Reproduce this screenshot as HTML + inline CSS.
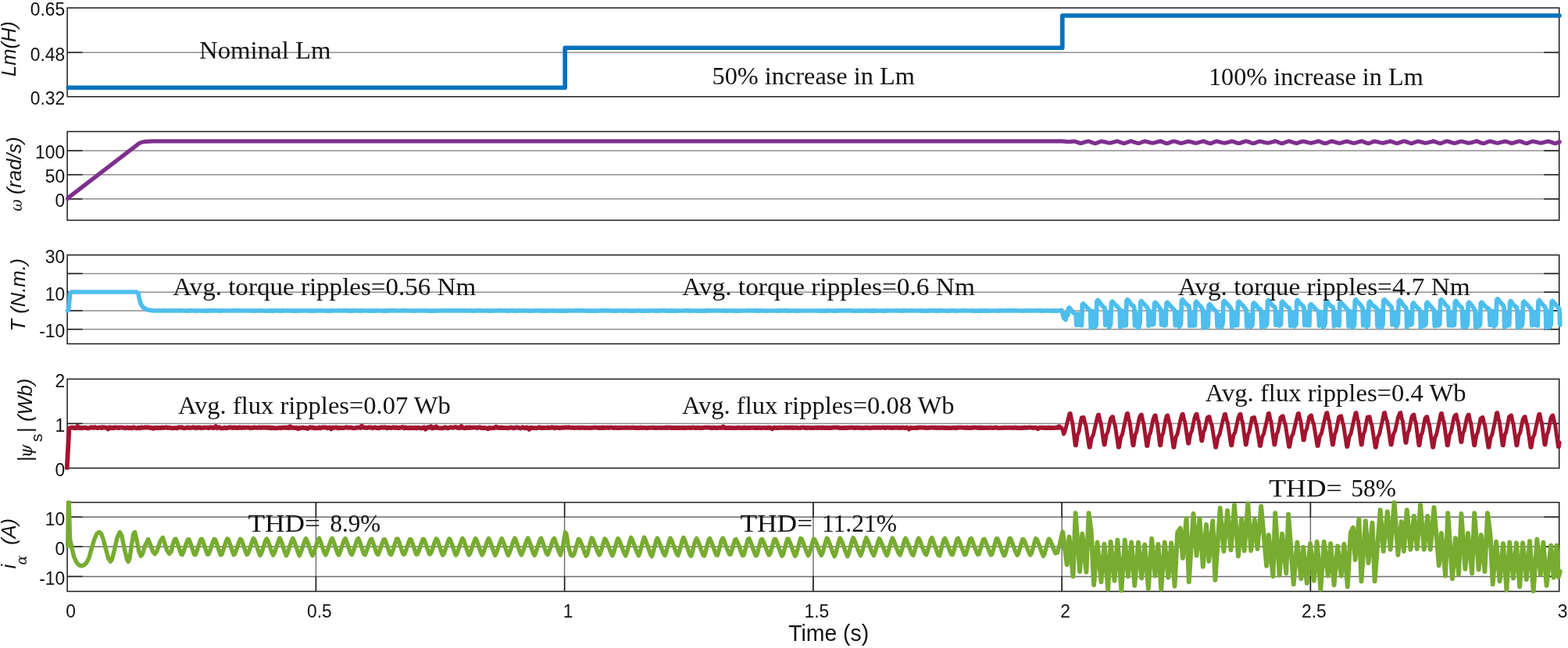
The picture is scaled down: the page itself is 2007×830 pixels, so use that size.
<!DOCTYPE html>
<html lang="en">
<head>
<meta charset="utf-8">
<title>Effect of Lm variation: speed, torque, flux and current response</title>
<style>
html,body{margin:0;padding:0;background:#fff;}
body{width:2007px;height:830px;overflow:hidden;}
svg{display:block;filter:blur(0.4px);}
.tk{font-family:"Liberation Sans",sans-serif;font-size:22.8px;fill:#111;}
.xl{font-family:"Liberation Sans",sans-serif;font-size:28.4px;fill:#111;}
.yl{font-family:"Liberation Sans",sans-serif;font-size:25.5px;font-style:italic;fill:#111;}
.gw{font-family:"DejaVu Serif",serif;font-style:italic;font-size:18.5px;fill:#111;}
.gr{font-family:"DejaVu Serif",serif;font-style:italic;font-size:22px;fill:#111;}
.yu{font-family:"Liberation Sans",sans-serif;font-size:25.5px;fill:#111;}
.ys{font-family:"Liberation Sans",sans-serif;font-size:21px;fill:#111;}
.ga{font-family:"DejaVu Serif",serif;font-style:italic;font-size:18px;fill:#111;}
.an{font-family:"Liberation Serif",serif;font-size:32px;fill:#111;}
</style>
</head>
<body>
<svg width="2007" height="830" viewBox="0 0 2007 830" role="img" aria-label="Simulation results under magnetizing inductance variation">
<rect width="2007" height="830" fill="#fff"/>
<g>
<line x1="86.1" y1="67.3" x2="1995.7" y2="67.3" stroke="#8f8f8f" stroke-width="1.5"/>
<rect x="86.1" y="10.1" width="1909.6" height="113.7" fill="none" stroke="#1c1c1c" stroke-width="1.5"/>
<line x1="86.1" y1="67.3" x2="105.6" y2="67.3" stroke="#1c1c1c" stroke-width="1.5"/>
<line x1="1976.2" y1="67.3" x2="1995.7" y2="67.3" stroke="#1c1c1c" stroke-width="1.5"/>
<polyline points="87.3,112.3 723.2,112.3 723.2,61.2 1359.8,61.2 1359.8,20.0 1996.0,20.0" fill="none" stroke="#0072BD" stroke-width="5.6" stroke-linejoin="round" stroke-linecap="round"/>
<text transform="translate(83.1 20.4) scale(1 1.04)" text-anchor="end" class="tk">0.65</text>
<text transform="translate(83.1 77.6) scale(1 1.04)" text-anchor="end" class="tk">0.48</text>
<text transform="translate(83.1 134.1) scale(1 1.04)" text-anchor="end" class="tk">0.32</text>
</g>
<g>
<line x1="86.1" y1="193.0" x2="1995.7" y2="193.0" stroke="#8f8f8f" stroke-width="1.5"/>
<line x1="86.1" y1="223.7" x2="1995.7" y2="223.7" stroke="#8f8f8f" stroke-width="1.5"/>
<line x1="86.1" y1="254.8" x2="1995.7" y2="254.8" stroke="#8f8f8f" stroke-width="1.5"/>
<rect x="86.1" y="168.5" width="1909.6" height="113.6" fill="none" stroke="#1c1c1c" stroke-width="1.5"/>
<line x1="86.1" y1="193.0" x2="105.6" y2="193.0" stroke="#1c1c1c" stroke-width="1.5"/>
<line x1="1976.2" y1="193.0" x2="1995.7" y2="193.0" stroke="#1c1c1c" stroke-width="1.5"/>
<line x1="86.1" y1="223.7" x2="105.6" y2="223.7" stroke="#1c1c1c" stroke-width="1.5"/>
<line x1="1976.2" y1="223.7" x2="1995.7" y2="223.7" stroke="#1c1c1c" stroke-width="1.5"/>
<line x1="86.1" y1="254.8" x2="105.6" y2="254.8" stroke="#1c1c1c" stroke-width="1.5"/>
<line x1="1976.2" y1="254.8" x2="1995.7" y2="254.8" stroke="#1c1c1c" stroke-width="1.5"/>
<polyline points="86.7,254.5 88.5,252.4 174.2,186.6 177.5,184.0 181.0,182.2 186.0,181.3 195.0,180.9 1360.0,180.9 1362.0,181.1 1363.5,181.2 1365.0,181.4 1366.5,181.5 1368.0,181.5 1369.5,181.5 1371.0,181.3 1372.5,181.2 1374.0,181.1 1375.5,181.1 1377.0,181.5 1378.5,181.9 1380.0,182.5 1381.5,183.1 1383.0,183.5 1384.5,183.3 1386.0,182.8 1387.5,182.3 1389.0,181.8 1390.5,181.4 1392.0,181.0 1393.5,180.9 1395.0,181.4 1396.5,182.0 1398.0,182.6 1399.5,183.1 1401.0,183.6 1402.5,183.6 1404.0,183.1 1405.5,182.5 1407.0,181.9 1408.5,181.3 1410.0,180.9 1411.5,181.3 1413.0,181.6 1414.5,181.9 1416.0,182.3 1417.5,182.7 1419.0,183.0 1420.5,183.1 1422.0,182.9 1423.5,182.5 1425.0,182.1 1426.5,181.7 1428.0,181.4 1429.5,180.8 1431.0,181.1 1432.5,181.7 1434.0,182.2 1435.5,182.8 1437.0,183.3 1438.5,183.7 1440.0,183.3 1441.5,182.8 1443.0,182.2 1444.5,181.7 1446.0,181.1 1447.5,180.8 1449.0,181.1 1450.5,181.6 1452.0,182.1 1453.5,182.6 1455.0,183.1 1456.5,183.5 1458.0,183.3 1459.5,182.9 1461.0,182.4 1462.5,181.8 1464.0,181.3 1465.5,180.9 1467.0,181.3 1468.5,181.6 1470.0,182.0 1471.5,182.4 1473.0,182.8 1474.5,183.1 1476.0,183.1 1477.5,182.8 1479.0,182.4 1480.5,182.0 1482.0,181.6 1483.5,181.3 1485.0,180.7 1486.5,181.2 1488.0,181.7 1489.5,182.4 1491.0,183.0 1492.5,183.5 1494.0,183.7 1495.5,183.3 1497.0,182.7 1498.5,182.1 1500.0,181.5 1501.5,181.0 1503.0,181.0 1504.5,181.3 1506.0,181.7 1507.5,182.2 1509.0,182.7 1510.5,183.1 1512.0,183.4 1513.5,183.1 1515.0,182.7 1516.5,182.3 1518.0,181.8 1519.5,181.4 1521.0,181.1 1522.5,181.3 1524.0,181.6 1525.5,182.1 1527.0,182.5 1528.5,183.0 1530.0,183.3 1531.5,183.2 1533.0,182.8 1534.5,182.4 1536.0,181.9 1537.5,181.5 1539.0,181.2 1540.5,180.8 1542.0,181.3 1543.5,181.9 1545.0,182.5 1546.5,183.1 1548.0,183.6 1549.5,183.7 1551.0,183.2 1552.5,182.6 1554.0,182.0 1555.5,181.4 1557.0,180.9 1558.5,181.2 1560.0,181.5 1561.5,181.9 1563.0,182.3 1564.5,182.7 1566.0,183.0 1567.5,183.2 1569.0,182.9 1570.5,182.6 1572.0,182.2 1573.5,181.8 1575.0,181.4 1576.5,180.8 1578.0,181.2 1579.5,181.6 1581.0,182.2 1582.5,182.7 1584.0,183.2 1585.5,183.5 1587.0,183.3 1588.5,182.8 1590.0,182.3 1591.5,181.8 1593.0,181.3 1594.5,180.9 1596.0,181.0 1597.5,181.4 1599.0,182.0 1600.5,182.6 1602.0,183.1 1603.5,183.6 1605.0,183.5 1606.5,183.0 1608.0,182.5 1609.5,181.9 1611.0,181.3 1612.5,180.9 1614.0,181.3 1615.5,181.6 1617.0,182.0 1618.5,182.4 1620.0,182.7 1621.5,183.0 1623.0,183.1 1624.5,182.8 1626.0,182.5 1627.5,182.1 1629.0,181.7 1630.5,181.4 1632.0,180.7 1633.5,181.1 1635.0,181.7 1636.5,182.3 1638.0,182.9 1639.5,183.4 1641.0,183.7 1642.5,183.3 1644.0,182.8 1645.5,182.2 1647.0,181.6 1648.5,181.1 1650.0,180.7 1651.5,181.2 1653.0,181.6 1654.5,182.1 1656.0,182.7 1657.5,183.1 1659.0,183.5 1660.5,183.3 1662.0,182.8 1663.5,182.3 1665.0,181.8 1666.5,181.3 1668.0,181.0 1669.5,181.3 1671.0,181.6 1672.5,182.0 1674.0,182.5 1675.5,182.8 1677.0,183.1 1678.5,183.1 1680.0,182.8 1681.5,182.4 1683.0,182.0 1684.5,181.6 1686.0,181.3 1687.5,180.7 1689.0,181.2 1690.5,181.8 1692.0,182.4 1693.5,183.0 1695.0,183.5 1696.5,183.7 1698.0,183.3 1699.5,182.7 1701.0,182.1 1702.5,181.4 1704.0,180.9 1705.5,181.1 1707.0,181.4 1708.5,181.8 1710.0,182.2 1711.5,182.7 1713.0,183.1 1714.5,183.3 1716.0,183.1 1717.5,182.7 1719.0,182.2 1720.5,181.8 1722.0,181.4 1723.5,181.1 1725.0,181.2 1726.5,181.6 1728.0,182.1 1729.5,182.6 1731.0,183.0 1732.5,183.3 1734.0,183.2 1735.5,182.8 1737.0,182.4 1738.5,181.9 1740.0,181.4 1741.5,181.1 1743.0,180.8 1744.5,181.3 1746.0,181.9 1747.5,182.5 1749.0,183.1 1750.5,183.6 1752.0,183.6 1753.5,183.2 1755.0,182.6 1756.5,181.9 1758.0,181.3 1759.5,180.9 1761.0,181.3 1762.5,181.5 1764.0,181.9 1765.5,182.3 1767.0,182.7 1768.5,183.0 1770.0,183.2 1771.5,182.9 1773.0,182.5 1774.5,182.1 1776.0,181.8 1777.5,181.4 1779.0,180.8 1780.5,181.2 1782.0,181.6 1783.5,182.2 1785.0,182.8 1786.5,183.2 1788.0,183.6 1789.5,183.3 1791.0,182.8 1792.5,182.3 1794.0,181.7 1795.5,181.2 1797.0,180.8 1798.5,181.0 1800.0,181.5 1801.5,182.0 1803.0,182.6 1804.5,183.1 1806.0,183.6 1807.5,183.4 1809.0,183.0 1810.5,182.4 1812.0,181.9 1813.5,181.3 1815.0,180.9 1816.5,181.3 1818.0,181.6 1819.5,182.0 1821.0,182.4 1822.5,182.8 1824.0,183.1 1825.5,183.1 1827.0,182.8 1828.5,182.5 1830.0,182.1 1831.5,181.7 1833.0,181.4 1834.5,180.7 1836.0,181.2 1837.5,181.7 1839.0,182.3 1840.5,182.9 1842.0,183.4 1843.5,183.7 1845.0,183.3 1846.5,182.8 1848.0,182.2 1849.5,181.5 1851.0,181.0 1852.5,180.9 1854.0,181.2 1855.5,181.7 1857.0,182.2 1858.5,182.7 1860.0,183.1 1861.5,183.4 1863.0,183.2 1864.5,182.8 1866.0,182.3 1867.5,181.8 1869.0,181.3 1870.5,181.0 1872.0,181.3 1873.5,181.6 1875.0,182.1 1876.5,182.5 1878.0,182.9 1879.5,183.2 1881.0,183.1 1882.5,182.8 1884.0,182.4 1885.5,182.0 1887.0,181.6 1888.5,181.2 1890.0,180.7 1891.5,181.2 1893.0,181.8 1894.5,182.5 1896.0,183.1 1897.5,183.6 1899.0,183.7 1900.5,183.3 1902.0,182.7 1903.5,182.0 1905.0,181.4 1906.5,180.9 1908.0,181.1 1909.5,181.4 1911.0,181.8 1912.5,182.3 1914.0,182.7 1915.5,183.0 1917.0,183.3 1918.5,183.0 1920.0,182.6 1921.5,182.2 1923.0,181.8 1924.5,181.4 1926.0,181.1 1927.5,181.2 1929.0,181.6 1930.5,182.1 1932.0,182.6 1933.5,183.1 1935.0,183.4 1936.5,183.2 1938.0,182.8 1939.5,182.3 1941.0,181.8 1942.5,181.4 1944.0,181.0 1945.5,180.9 1947.0,181.4 1948.5,182.0 1950.0,182.6 1951.5,183.1 1953.0,183.6 1954.5,183.6 1956.0,183.1 1957.5,182.5 1959.0,181.9 1960.5,181.3 1962.0,180.9 1963.5,181.3 1965.0,181.6 1966.5,181.9 1968.0,182.3 1969.5,182.7 1971.0,183.0 1972.5,183.1 1974.0,182.9 1975.5,182.5 1977.0,182.1 1978.5,181.7 1980.0,181.4 1981.5,180.8 1983.0,181.2 1984.5,181.7 1986.0,182.2 1987.5,182.8 1989.0,183.3 1990.5,183.7 1992.0,183.3 1993.5,182.8 1995.0,182.2 1996.2,181.6" fill="none" stroke="#7E2F8E" stroke-width="5.2" stroke-linejoin="round" stroke-linecap="round"/>
<text transform="translate(83.1 203.3) scale(1 1.04)" text-anchor="end" class="tk">100</text>
<text transform="translate(83.1 234.0) scale(1 1.04)" text-anchor="end" class="tk">50</text>
<text transform="translate(83.1 265.1) scale(1 1.04)" text-anchor="end" class="tk">0</text>
</g>
<g>
<line x1="86.1" y1="350.4" x2="1995.7" y2="350.4" stroke="#8f8f8f" stroke-width="1.5"/>
<line x1="86.1" y1="374.2" x2="1995.7" y2="374.2" stroke="#8f8f8f" stroke-width="1.5"/>
<line x1="86.1" y1="397.9" x2="1995.7" y2="397.9" stroke="#8f8f8f" stroke-width="1.5"/>
<line x1="86.1" y1="421.7" x2="1995.7" y2="421.7" stroke="#8f8f8f" stroke-width="1.5"/>
<rect x="86.1" y="326.6" width="1909.6" height="113.8" fill="none" stroke="#1c1c1c" stroke-width="1.5"/>
<line x1="86.1" y1="350.4" x2="105.6" y2="350.4" stroke="#1c1c1c" stroke-width="1.5"/>
<line x1="1976.2" y1="350.4" x2="1995.7" y2="350.4" stroke="#1c1c1c" stroke-width="1.5"/>
<line x1="86.1" y1="374.2" x2="105.6" y2="374.2" stroke="#1c1c1c" stroke-width="1.5"/>
<line x1="1976.2" y1="374.2" x2="1995.7" y2="374.2" stroke="#1c1c1c" stroke-width="1.5"/>
<line x1="86.1" y1="397.9" x2="105.6" y2="397.9" stroke="#1c1c1c" stroke-width="1.5"/>
<line x1="1976.2" y1="397.9" x2="1995.7" y2="397.9" stroke="#1c1c1c" stroke-width="1.5"/>
<line x1="86.1" y1="421.7" x2="105.6" y2="421.7" stroke="#1c1c1c" stroke-width="1.5"/>
<line x1="1976.2" y1="421.7" x2="1995.7" y2="421.7" stroke="#1c1c1c" stroke-width="1.5"/>
<polyline points="86.5,397.7 87.8,396.0 89.6,376.5 91.5,374.0 175.0,374.0 177.0,375.6 178.4,383.0 180.2,389.5 183.5,394.0 188.5,396.8 196.0,397.9 200.0,398.0 203.0,397.9 206.0,398.0 209.0,397.9 212.0,398.0 215.0,398.0 218.0,397.9 221.0,398.0 224.0,397.9 227.0,398.0 230.0,397.9 233.0,397.9 236.0,398.0 239.0,398.1 242.0,397.9 245.0,397.9 248.0,398.0 251.0,398.1 254.0,398.0 257.0,398.0 260.0,398.1 263.0,397.9 266.0,398.1 269.0,397.9 272.0,397.9 275.0,397.9 278.0,398.0 281.0,398.1 284.0,397.9 287.0,398.0 290.0,398.0 293.0,398.0 296.0,398.0 299.0,397.9 302.0,397.9 305.0,397.9 308.0,398.0 311.0,398.0 314.0,398.0 317.0,398.0 320.0,398.0 323.0,398.0 326.0,398.1 329.0,398.0 332.0,397.9 335.0,398.0 338.0,398.0 341.0,398.1 344.0,398.1 347.0,397.9 350.0,398.1 353.0,397.9 356.0,398.0 359.0,398.1 362.0,397.9 365.0,398.0 368.0,397.9 371.0,398.0 374.0,398.1 377.0,398.0 380.0,398.1 383.0,398.0 386.0,398.0 389.0,398.0 392.0,398.0 395.0,398.0 398.0,398.1 401.0,398.1 404.0,398.0 407.0,398.0 410.0,397.9 413.0,398.0 416.0,398.0 419.0,398.1 422.0,398.1 425.0,397.9 428.0,398.0 431.0,398.0 434.0,397.9 437.0,398.0 440.0,397.9 443.0,397.9 446.0,397.9 449.0,398.1 452.0,397.9 455.0,397.9 458.0,398.0 461.0,398.1 464.0,397.9 467.0,398.0 470.0,398.0 473.0,398.1 476.0,398.1 479.0,398.1 482.0,397.9 485.0,398.0 488.0,398.0 491.0,398.1 494.0,398.1 497.0,397.9 500.0,397.9 503.0,397.9 506.0,397.9 509.0,398.0 512.0,398.0 515.0,397.9 518.0,397.9 521.0,398.0 524.0,398.0 527.0,398.0 530.0,398.1 533.0,398.0 536.0,398.0 539.0,398.0 542.0,398.0 545.0,397.9 548.0,398.1 551.0,398.1 554.0,398.1 557.0,398.1 560.0,398.0 563.0,398.0 566.0,397.9 569.0,398.0 572.0,397.9 575.0,397.9 578.0,397.9 581.0,397.9 584.0,398.0 587.0,397.9 590.0,397.9 593.0,397.9 596.0,397.9 599.0,398.0 602.0,397.9 605.0,398.1 608.0,398.0 611.0,397.9 614.0,397.9 617.0,398.0 620.0,398.0 623.0,397.9 626.0,398.1 629.0,398.1 632.0,398.0 635.0,398.0 638.0,397.9 641.0,397.9 644.0,398.0 647.0,397.9 650.0,398.1 653.0,397.9 656.0,397.9 659.0,398.1 662.0,398.0 665.0,397.9 668.0,398.0 671.0,397.9 674.0,398.0 677.0,398.1 680.0,398.1 683.0,398.0 686.0,397.9 689.0,398.0 692.0,397.9 695.0,398.1 698.0,398.0 701.0,398.1 704.0,398.0 707.0,397.9 710.0,398.1 713.0,398.1 716.0,398.1 719.0,398.1 722.0,398.1 725.0,398.1 728.0,397.9 731.0,398.0 734.0,398.0 737.0,397.9 740.0,397.9 743.0,397.9 746.0,397.9 749.0,398.0 752.0,398.1 755.0,398.0 758.0,398.1 761.0,398.1 764.0,398.1 767.0,398.0 770.0,397.9 773.0,397.9 776.0,397.9 779.0,397.9 782.0,398.0 785.0,398.1 788.0,398.1 791.0,398.0 794.0,398.0 797.0,398.1 800.0,397.9 803.0,398.0 806.0,398.1 809.0,398.1 812.0,398.1 815.0,398.0 818.0,397.9 821.0,398.1 824.0,398.0 827.0,398.1 830.0,398.1 833.0,398.0 836.0,398.0 839.0,398.1 842.0,398.1 845.0,397.9 848.0,397.9 851.0,397.9 854.0,398.1 857.0,398.1 860.0,397.9 863.0,398.1 866.0,398.1 869.0,398.0 872.0,398.0 875.0,398.0 878.0,397.9 881.0,397.9 884.0,398.1 887.0,398.0 890.0,398.0 893.0,398.1 896.0,398.0 899.0,398.1 902.0,398.1 905.0,397.9 908.0,397.9 911.0,398.0 914.0,397.9 917.0,398.0 920.0,397.9 923.0,398.0 926.0,397.9 929.0,398.1 932.0,398.0 935.0,398.0 938.0,398.0 941.0,398.1 944.0,398.0 947.0,398.1 950.0,398.0 953.0,398.0 956.0,398.0 959.0,397.9 962.0,398.0 965.0,397.9 968.0,397.9 971.0,398.1 974.0,397.9 977.0,398.0 980.0,398.1 983.0,398.0 986.0,398.0 989.0,398.0 992.0,398.0 995.0,398.1 998.0,397.9 1001.0,398.0 1004.0,397.9 1007.0,397.9 1010.0,398.1 1013.0,398.0 1016.0,398.0 1019.0,398.1 1022.0,398.1 1025.0,398.0 1028.0,398.0 1031.0,398.0 1034.0,398.0 1037.0,398.0 1040.0,398.0 1043.0,398.0 1046.0,398.0 1049.0,398.1 1052.0,398.0 1055.0,398.1 1058.0,398.1 1061.0,397.9 1064.0,398.0 1067.0,398.1 1070.0,398.1 1073.0,397.9 1076.0,397.9 1079.0,398.0 1082.0,397.9 1085.0,397.9 1088.0,397.9 1091.0,398.0 1094.0,398.1 1097.0,398.1 1100.0,397.9 1103.0,398.1 1106.0,398.0 1109.0,397.9 1112.0,398.1 1115.0,398.1 1118.0,397.9 1121.0,398.1 1124.0,398.0 1127.0,398.0 1130.0,398.1 1133.0,398.1 1136.0,397.9 1139.0,398.0 1142.0,398.0 1145.0,398.0 1148.0,397.9 1151.0,398.0 1154.0,398.1 1157.0,397.9 1160.0,398.0 1163.0,398.0 1166.0,397.9 1169.0,398.0 1172.0,398.0 1175.0,398.0 1178.0,397.9 1181.0,398.1 1184.0,398.1 1187.0,398.1 1190.0,397.9 1193.0,397.9 1196.0,397.9 1199.0,398.1 1202.0,397.9 1205.0,397.9 1208.0,398.0 1211.0,398.1 1214.0,398.1 1217.0,397.9 1220.0,397.9 1223.0,398.1 1226.0,398.0 1229.0,398.0 1232.0,397.9 1235.0,397.9 1238.0,398.0 1241.0,398.0 1244.0,397.9 1247.0,398.1 1250.0,398.0 1253.0,398.1 1256.0,397.9 1259.0,398.1 1262.0,397.9 1265.0,398.1 1268.0,398.0 1271.0,398.0 1274.0,398.0 1277.0,398.1 1280.0,397.9 1283.0,397.9 1286.0,398.0 1289.0,397.9 1292.0,397.9 1295.0,397.9 1298.0,397.9 1301.0,397.9 1304.0,398.0 1307.0,398.0 1310.0,398.1 1313.0,397.9 1316.0,398.0 1319.0,397.9 1322.0,398.0 1325.0,397.9 1328.0,397.9 1331.0,397.9 1334.0,398.1 1337.0,398.0 1340.0,397.9 1343.0,398.0 1346.0,398.1 1349.0,397.9 1352.0,398.1 1355.0,398.0 1358.6,397.3 1359.6,399.0 1361.5,407.0 1364.0,409.5 1365.3,401.0 1366.7,404.0 1367.5,395.5 1368.7,394.0 1371.2,397.2 1373.9,400.7 1376.4,402.3 1377.3,404.5 1378.0,416.5 1378.5,416.2 1380.2,402.0 1380.5,402.3 1382.2,416.5 1383.1,416.2 1384.5,416.8 1385.3,390.4 1386.5,388.9 1389.1,391.7 1391.9,394.5 1394.5,396.9 1395.5,399.4 1396.2,419.3 1396.8,419.0 1398.5,398.6 1398.9,398.9 1400.7,418.8 1401.6,418.5 1403.1,417.0 1403.9,386.1 1405.1,384.6 1407.7,387.1 1410.5,391.2 1413.1,393.8 1414.1,395.1 1414.8,416.3 1415.4,416.0 1417.1,400.3 1417.5,400.6 1419.3,419.0 1420.2,418.7 1421.7,415.1 1422.5,387.8 1423.7,386.3 1426.5,389.3 1429.4,392.1 1432.2,394.8 1433.1,396.8 1433.9,418.7 1434.5,418.4 1436.4,398.2 1436.7,398.5 1438.6,417.1 1439.6,416.8 1441.2,417.0 1442.0,385.3 1443.2,383.8 1445.7,386.5 1448.4,390.5 1450.9,392.1 1451.8,394.3 1452.5,417.1 1453.0,416.8 1454.7,402.2 1455.0,402.5 1456.7,419.8 1457.6,419.5 1459.0,414.0 1459.8,387.0 1461.0,385.5 1463.5,388.5 1466.1,391.3 1468.6,394.1 1469.5,396.0 1470.2,417.4 1470.7,417.1 1472.4,398.9 1472.8,399.2 1474.5,416.0 1475.3,415.7 1476.7,415.1 1477.5,388.7 1478.7,387.2 1480.8,389.6 1483.1,392.8 1485.2,395.5 1486.0,397.7 1486.6,416.0 1487.1,415.7 1488.5,398.6 1488.9,398.9 1490.3,417.1 1491.1,416.8 1492.1,416.3 1492.9,388.7 1494.1,387.2 1496.9,390.4 1499.8,393.6 1502.6,396.4 1503.5,397.7 1504.3,416.9 1504.9,416.6 1506.8,400.0 1507.1,400.3 1509.0,418.3 1510.0,418.0 1511.6,415.3 1512.4,385.3 1513.6,383.8 1516.1,387.1 1518.8,390.2 1521.3,391.7 1522.2,394.3 1522.9,417.6 1523.4,417.3 1525.1,400.2 1525.4,400.5 1527.1,417.3 1528.0,417.0 1529.4,417.0 1530.2,387.8 1531.4,386.3 1533.7,389.7 1536.3,392.1 1538.6,395.0 1539.5,396.8 1540.2,419.3 1540.7,419.0 1542.3,399.9 1542.6,400.2 1544.2,419.6 1545.1,419.3 1546.3,417.0 1547.1,391.2 1548.3,389.7 1551.0,392.8 1553.8,396.4 1556.4,398.6 1557.3,400.2 1558.1,418.0 1558.6,417.7 1560.4,403.6 1560.8,403.9 1562.6,419.3 1563.5,419.0 1565.0,414.9 1565.8,387.0 1567.0,385.5 1569.7,388.3 1572.5,391.2 1575.1,394.6 1576.0,396.0 1576.8,418.8 1577.3,418.5 1579.1,400.2 1579.5,400.5 1581.3,416.9 1582.2,416.6 1583.7,416.5 1584.5,387.8 1585.7,386.3 1588.5,389.3 1591.4,391.9 1594.1,395.4 1595.1,396.8 1595.9,418.2 1596.4,417.9 1598.3,402.9 1598.7,403.2 1600.5,418.5 1601.5,418.2 1603.1,416.0 1603.9,389.5 1605.1,388.0 1607.7,390.5 1610.5,394.5 1613.1,396.2 1614.1,398.5 1614.8,419.0 1615.4,418.7 1617.1,399.6 1617.5,399.9 1619.3,418.0 1620.2,417.7 1621.7,415.1 1622.5,386.1 1623.7,384.6 1626.2,387.9 1628.9,391.4 1631.4,393.2 1632.3,395.1 1633.0,416.3 1633.5,416.0 1635.2,400.5 1635.5,400.8 1637.2,417.1 1638.1,416.8 1639.5,415.9 1640.3,387.8 1641.5,386.3 1644.3,389.5 1647.2,392.7 1650.0,394.3 1650.9,396.8 1651.7,417.5 1652.3,417.2 1654.2,400.1 1654.5,400.4 1656.4,417.9 1657.4,417.6 1659.0,415.0 1659.8,386.1 1661.0,384.6 1663.3,387.7 1665.9,390.2 1668.2,392.5 1669.1,395.1 1669.8,416.6 1670.3,416.3 1671.9,401.0 1672.2,401.3 1673.8,417.0 1674.7,416.7 1675.9,416.7 1676.7,391.2 1677.9,389.7 1680.9,392.5 1683.9,395.9 1686.7,398.3 1687.8,400.2 1688.6,417.1 1689.2,416.8 1691.1,399.7 1691.5,400.0 1693.4,418.7 1694.5,418.4 1696.2,414.5 1697.0,387.0 1698.2,385.5 1700.7,389.1 1703.4,392.2 1705.9,393.3 1706.8,396.0 1707.5,417.9 1708.0,417.6 1709.7,400.5 1710.0,400.8 1711.7,416.5 1712.6,416.2 1714.0,417.0 1714.8,388.7 1716.0,387.2 1718.8,389.9 1721.7,393.0 1724.5,396.5 1725.4,397.7 1726.2,417.8 1726.8,417.5 1728.7,398.8 1729.0,399.1 1730.9,419.3 1731.9,419.0 1733.5,416.3 1734.3,385.3 1735.5,383.8 1738.0,387.3 1740.7,389.5 1743.2,392.9 1744.1,394.3 1744.8,416.8 1745.3,416.5 1747.0,399.1 1747.3,399.4 1749.0,418.3 1749.9,418.0 1751.3,417.0 1752.1,387.8 1753.3,386.3 1755.9,389.8 1758.7,392.5 1761.3,394.2 1762.3,396.8 1763.0,418.0 1763.6,417.7 1765.3,397.9 1765.7,398.2 1767.5,419.5 1768.4,419.2 1769.9,416.0 1770.7,385.3 1771.9,383.8 1774.7,386.4 1777.6,389.8 1780.4,392.1 1781.3,394.3 1782.1,416.0 1782.7,415.7 1784.6,401.0 1784.9,401.3 1786.8,418.0 1787.8,417.7 1789.4,414.0 1790.2,386.1 1791.4,384.6 1793.9,387.2 1796.6,391.3 1799.1,393.6 1800.0,395.1 1800.7,419.4 1801.2,419.1 1802.9,400.4 1803.2,400.7 1804.9,416.0 1805.8,415.7 1807.2,415.2 1808.0,389.5 1809.2,388.0 1811.7,391.6 1814.4,394.3 1816.9,396.4 1817.8,398.5 1818.5,419.6 1819.0,419.3 1820.7,401.5 1821.0,401.8 1822.7,417.2 1823.6,416.9 1825.0,415.1 1825.8,388.7 1827.0,387.2 1829.5,390.6 1832.2,393.1 1834.7,396.5 1835.6,397.7 1836.3,417.7 1836.8,417.4 1838.5,400.0 1838.8,400.3 1840.5,417.1 1841.4,416.8 1842.8,415.1 1843.6,385.3 1844.8,383.8 1847.5,386.6 1850.3,390.5 1852.9,393.0 1853.8,394.3 1854.6,417.0 1855.1,416.7 1856.9,400.4 1857.3,400.7 1859.1,417.1 1860.0,416.8 1861.5,416.5 1862.3,387.0 1863.5,385.5 1865.8,388.5 1868.4,391.9 1870.7,393.4 1871.6,396.0 1872.3,419.2 1872.8,418.9 1874.4,400.8 1874.7,401.1 1876.3,418.5 1877.2,418.2 1878.4,415.8 1879.2,388.7 1880.4,387.2 1882.6,389.9 1885.0,392.8 1887.3,396.5 1888.1,397.7 1888.7,418.9 1889.2,418.6 1890.7,402.7 1891.1,403.0 1892.6,417.8 1893.4,417.5 1894.5,415.9 1895.3,388.7 1896.5,387.2 1899.5,390.5 1902.5,393.9 1905.4,395.4 1906.4,397.7 1907.2,416.5 1907.8,416.2 1909.8,398.2 1910.2,398.5 1912.1,417.9 1913.1,417.6 1914.9,415.2 1915.7,384.4 1916.9,382.9 1919.2,385.5 1921.8,388.7 1924.1,391.1 1925.0,393.4 1925.7,418.6 1926.2,418.3 1927.8,401.5 1928.1,401.8 1929.7,417.2 1930.6,416.9 1931.8,416.0 1932.6,387.0 1933.8,385.5 1936.1,389.1 1938.7,391.6 1941.0,393.5 1941.9,396.0 1942.6,419.6 1943.1,419.3 1944.7,400.6 1945.0,400.9 1946.6,418.0 1947.5,417.7 1948.7,414.4 1949.5,387.8 1950.7,386.3 1953.5,389.0 1956.4,392.2 1959.2,395.0 1960.1,396.8 1960.9,416.8 1961.5,416.5 1963.4,400.0 1963.7,400.3 1965.6,416.4 1966.6,416.1 1968.2,417.0 1969.0,386.1 1970.2,384.6 1972.6,387.7 1975.1,390.7 1977.5,393.0 1978.3,395.1 1979.0,419.5 1979.5,419.2 1981.1,398.7 1981.5,399.0 1983.1,419.0 1984.0,418.7 1985.2,415.1 1986.0,387.0 1987.2,385.5 1989.8,388.5 1992.5,391.8 1995.1,394.7 1996.0,396.0 1996.7,416.2 1996.7,410.0" fill="none" stroke="#4DBEEE" stroke-width="5.7" stroke-linejoin="round" stroke-linecap="round"/>
<text transform="translate(83.1 336.9) scale(1 1.04)" text-anchor="end" class="tk">30</text>
<text transform="translate(83.1 384.5) scale(1 1.04)" text-anchor="end" class="tk">10</text>
<text transform="translate(83.1 432.0) scale(1 1.04)" text-anchor="end" class="tk">-10</text>
</g>
<g>
<line x1="86.1" y1="542.5" x2="1995.7" y2="542.5" stroke="#8f8f8f" stroke-width="1.5"/>
<rect x="86.1" y="485.5" width="1909.6" height="114.1" fill="none" stroke="#1c1c1c" stroke-width="1.5"/>
<line x1="86.1" y1="542.5" x2="105.6" y2="542.5" stroke="#1c1c1c" stroke-width="1.5"/>
<line x1="1976.2" y1="542.5" x2="1995.7" y2="542.5" stroke="#1c1c1c" stroke-width="1.5"/>
<polyline points="85.8,599.0 88.4,549.0 90.3,547.8 92.5,547.6 94.2,547.8 95.9,548.4 97.6,548.3 99.3,546.1 101.0,548.2 102.7,547.9 104.4,548.4 106.1,547.9 107.8,547.8 109.5,547.6 111.2,548.4 112.9,548.3 114.6,548.3 116.3,547.4 118.0,547.4 119.7,548.0 121.4,547.2 123.1,547.9 124.8,548.2 126.5,547.7 128.2,547.6 129.9,548.2 131.6,547.2 133.3,547.7 135.0,547.6 136.7,548.0 138.4,549.5 140.1,547.4 141.8,548.1 143.5,547.6 145.2,548.4 146.9,547.4 148.6,547.8 150.3,547.6 152.0,548.2 153.7,547.6 155.4,547.7 157.1,547.6 158.8,548.2 160.5,548.4 162.2,547.6 163.9,547.8 165.6,548.4 167.3,547.8 169.0,548.4 170.7,547.4 172.4,547.8 174.1,548.3 175.8,548.4 177.5,547.7 179.2,548.4 180.9,547.4 182.6,547.8 184.3,547.7 186.0,547.4 187.7,547.7 189.4,547.5 191.1,547.6 192.8,548.3 194.5,547.8 196.2,549.0 197.9,547.8 199.6,548.2 201.3,548.0 203.0,548.0 204.7,547.8 206.4,548.2 208.1,547.6 209.8,548.0 211.5,547.7 213.2,547.4 214.9,548.1 216.6,547.7 218.3,548.0 220.0,548.4 221.7,548.3 223.4,548.1 225.1,548.2 226.8,548.4 228.5,547.5 230.2,547.4 231.9,547.7 233.6,547.5 235.3,548.3 237.0,548.2 238.7,547.9 240.4,547.5 242.1,548.1 243.8,547.9 245.5,547.8 247.2,547.4 248.9,547.6 250.6,548.4 252.3,547.5 254.0,547.9 255.7,547.6 257.4,548.2 259.1,548.2 260.8,547.7 262.5,547.6 264.2,547.8 265.9,547.6 267.6,548.3 269.3,547.4 271.0,547.6 272.7,548.1 274.4,547.9 276.1,546.2 277.8,548.3 279.5,547.4 281.2,547.5 282.9,548.4 284.6,548.4 286.3,548.3 288.0,547.6 289.7,548.4 291.4,548.0 293.1,547.6 294.8,547.5 296.5,547.6 298.2,548.1 299.9,547.4 301.6,548.1 303.3,547.7 305.0,548.2 306.7,547.4 308.4,547.8 310.1,548.1 311.8,547.5 313.5,547.8 315.2,547.7 316.9,547.7 318.6,547.7 320.3,548.3 322.0,547.8 323.7,548.2 325.4,547.4 327.1,547.8 328.8,547.8 330.5,547.9 332.2,547.4 333.9,548.1 335.6,547.4 337.3,547.8 339.0,547.5 340.7,547.9 342.4,547.5 344.1,548.2 345.8,547.6 347.5,548.4 349.2,547.9 350.9,548.4 352.6,548.3 354.3,548.3 356.0,548.2 357.7,547.8 359.4,548.3 361.1,547.6 362.8,547.9 364.5,547.5 366.2,548.1 367.9,547.4 369.6,548.2 371.3,546.3 373.0,548.0 374.7,547.7 376.4,548.0 378.1,548.1 379.8,547.8 381.5,549.3 383.2,548.0 384.9,548.3 386.6,547.8 388.3,547.7 390.0,548.2 391.7,548.1 393.4,549.1 395.1,548.2 396.8,547.4 398.5,547.8 400.2,547.5 401.9,548.4 403.6,548.2 405.3,548.4 407.0,548.4 408.7,547.5 410.4,548.4 412.1,547.7 413.8,547.5 415.5,547.7 417.2,547.5 418.9,548.4 420.6,547.6 422.3,547.7 424.0,549.5 425.7,547.7 427.4,547.8 429.1,547.6 430.8,547.4 432.5,548.4 434.2,547.9 435.9,548.3 437.6,547.9 439.3,548.2 441.0,547.8 442.7,547.5 444.4,547.4 446.1,548.0 447.8,547.7 449.5,547.7 451.2,548.3 452.9,548.3 454.6,548.2 456.3,547.7 458.0,547.8 459.7,547.4 461.4,548.0 463.1,545.7 464.8,547.5 466.5,547.6 468.2,548.0 469.9,548.0 471.6,547.5 473.3,547.6 475.0,547.5 476.7,548.3 478.4,547.8 480.1,547.4 481.8,548.0 483.5,548.1 485.2,548.4 486.9,547.6 488.6,547.4 490.3,547.8 492.0,547.4 493.7,547.4 495.4,548.4 497.1,547.6 498.8,547.9 500.5,548.2 502.2,547.7 503.9,547.4 505.6,548.2 507.3,547.4 509.0,548.2 510.7,548.2 512.4,547.6 514.1,547.6 515.8,547.1 517.5,548.4 519.2,547.4 520.9,548.1 522.6,548.4 524.3,547.7 526.0,548.3 527.7,547.9 529.4,548.3 531.1,547.6 532.8,548.4 534.5,547.8 536.2,547.8 537.9,548.4 539.6,548.3 541.3,547.9 543.0,547.4 544.7,549.7 546.4,547.6 548.1,547.4 549.8,547.5 551.5,546.3 553.2,548.4 554.9,547.4 556.6,548.1 558.3,546.5 560.0,548.0 561.7,548.2 563.4,548.3 565.1,548.3 566.8,548.4 568.5,547.6 570.2,547.4 571.9,548.2 573.6,548.3 575.3,547.7 577.0,547.5 578.7,547.6 580.4,547.8 582.1,547.2 583.8,547.2 585.5,548.0 587.2,547.7 588.9,548.2 590.6,546.0 592.3,547.9 594.0,548.3 595.7,548.3 597.4,547.4 599.1,548.2 600.8,547.4 602.5,547.9 604.2,547.6 605.9,547.7 607.6,547.6 609.3,547.7 611.0,548.1 612.7,547.5 614.4,547.4 616.1,548.1 617.8,548.0 619.5,547.8 621.2,548.3 622.9,548.3 624.6,549.4 626.3,547.9 628.0,548.4 629.7,548.4 631.4,548.0 633.1,548.0 634.8,546.7 636.5,547.8 638.2,547.7 639.9,548.1 641.6,547.6 643.3,548.1 645.0,547.9 646.7,548.2 648.4,548.0 650.1,548.4 651.8,548.0 653.5,547.6 655.2,547.6 656.9,548.4 658.6,548.1 660.3,547.5 662.0,547.7 663.7,547.7 665.4,548.4 667.1,548.3 668.8,547.4 670.5,547.8 672.2,548.4 673.9,547.4 675.6,548.2 677.3,550.0 679.0,548.0 680.7,547.8 682.4,548.1 684.1,548.2 685.8,548.3 687.5,548.1 689.2,547.7 690.9,547.5 692.6,548.2 694.3,548.0 696.0,547.8 697.7,548.0 699.4,548.1 701.1,547.6 702.8,548.2 704.5,547.9 706.2,547.4 707.9,547.5 709.6,548.4 711.3,547.5 713.0,547.9 714.7,547.9 716.4,548.3 718.1,547.8 719.8,547.6 721.5,547.8 723.2,547.5 724.9,547.7 726.6,547.7 728.3,547.4 730.0,547.8 731.7,547.8 733.4,547.7 735.1,548.2 736.8,547.7 738.5,547.8 740.2,547.6 741.9,548.1 743.6,547.9 745.3,547.7 747.0,547.8 748.7,548.1 750.4,547.9 752.1,547.9 753.8,548.1 755.5,548.1 757.2,547.8 758.9,547.8 760.6,547.6 762.3,547.7 764.0,547.8 765.7,547.8 767.4,548.0 769.1,548.2 770.8,547.6 772.5,548.2 774.2,547.6 775.9,548.0 777.6,547.6 779.3,548.0 781.0,547.6 782.7,547.7 784.4,547.8 786.1,548.2 787.8,547.7 789.5,548.0 791.2,548.0 792.9,548.1 794.6,547.7 796.3,547.9 798.0,547.9 799.7,547.9 801.4,547.7 803.1,547.9 804.8,547.9 806.5,547.9 808.2,547.9 809.9,547.6 811.6,547.9 813.3,548.0 815.0,547.8 816.7,548.2 818.4,548.0 820.1,547.6 821.8,548.0 823.5,547.8 825.2,547.9 826.9,548.2 828.6,548.1 830.3,547.8 832.0,547.8 833.7,547.9 835.4,547.7 837.1,547.8 838.8,548.1 840.5,548.1 842.2,547.9 843.9,547.9 845.6,548.0 847.3,547.8 849.0,547.8 850.7,548.0 852.4,547.6 854.1,548.2 855.8,547.6 857.5,547.6 859.2,548.2 860.9,548.0 862.6,548.2 864.3,548.0 866.0,548.0 867.7,548.0 869.4,548.0 871.1,548.1 872.8,547.7 874.5,548.1 876.2,548.0 877.9,548.1 879.6,547.9 881.3,547.8 883.0,547.8 884.7,548.0 886.4,547.6 888.1,547.6 889.8,548.1 891.5,548.2 893.2,547.6 894.9,548.0 896.6,548.2 898.3,547.8 900.0,548.0 901.7,547.7 903.4,547.6 905.1,547.6 906.8,547.6 908.5,547.6 910.2,548.1 911.9,548.1 913.6,547.6 915.3,548.0 917.0,548.1 918.7,548.0 920.4,547.9 922.1,547.7 923.8,548.1 925.5,546.5 927.2,548.0 928.9,547.8 930.6,548.2 932.3,548.0 934.0,548.2 935.7,547.9 937.4,548.2 939.1,548.2 940.8,548.1 942.5,548.1 944.2,547.7 945.9,547.8 947.6,548.0 949.3,548.1 951.0,548.2 952.7,547.6 954.4,548.1 956.1,548.2 957.8,547.8 959.5,548.1 961.2,547.9 962.9,547.8 964.6,547.7 966.3,548.1 968.0,547.8 969.7,548.2 971.4,547.7 973.1,548.1 974.8,548.1 976.5,547.9 978.2,547.9 979.9,548.1 981.6,548.2 983.3,547.6 985.0,548.0 986.7,548.0 988.4,549.3 990.1,548.1 991.8,547.7 993.5,548.2 995.2,547.9 996.9,548.0 998.6,547.7 1000.3,548.0 1002.0,547.9 1003.7,547.9 1005.4,547.6 1007.1,547.8 1008.8,548.0 1010.5,547.7 1012.2,547.8 1013.9,547.6 1015.6,548.2 1017.3,547.9 1019.0,547.7 1020.7,547.8 1022.4,548.1 1024.1,548.2 1025.8,547.6 1027.5,547.7 1029.2,547.6 1030.9,548.2 1032.6,548.2 1034.3,547.6 1036.0,547.8 1037.7,548.2 1039.4,547.9 1041.1,548.2 1042.8,547.8 1044.5,547.7 1046.2,548.2 1047.9,547.6 1049.6,547.8 1051.3,548.2 1053.0,547.6 1054.7,548.0 1056.4,548.2 1058.1,547.7 1059.8,548.2 1061.5,547.8 1063.2,548.1 1064.9,547.8 1066.6,547.6 1068.3,547.7 1070.0,547.7 1071.7,547.6 1073.4,547.7 1075.1,548.2 1076.8,548.2 1078.5,548.2 1080.2,547.9 1081.9,548.2 1083.6,548.0 1085.3,547.8 1087.0,547.9 1088.7,547.6 1090.4,547.6 1092.1,547.9 1093.8,548.2 1095.5,547.8 1097.2,547.7 1098.9,547.8 1100.6,547.9 1102.3,548.2 1104.0,548.2 1105.7,548.2 1107.4,547.7 1109.1,547.8 1110.8,547.7 1112.5,548.2 1114.2,548.2 1115.9,547.8 1117.6,547.6 1119.3,547.8 1121.0,547.6 1122.7,547.8 1124.4,547.6 1126.1,547.9 1127.8,547.9 1129.5,547.7 1131.2,547.6 1132.9,548.1 1134.6,547.7 1136.3,547.6 1138.0,547.9 1139.7,547.7 1141.4,548.0 1143.1,548.0 1144.8,547.6 1146.5,547.8 1148.2,547.6 1149.9,547.8 1151.6,548.2 1153.3,547.6 1155.0,547.9 1156.7,547.7 1158.4,548.1 1160.1,547.7 1161.8,548.0 1163.5,549.6 1165.2,547.8 1166.9,548.1 1168.6,548.1 1170.3,548.0 1172.0,547.8 1173.7,548.1 1175.4,547.6 1177.1,547.6 1178.8,547.6 1180.5,547.7 1182.2,547.9 1183.9,547.6 1185.6,548.1 1187.3,548.1 1189.0,547.9 1190.7,547.9 1192.4,547.6 1194.1,547.7 1195.8,548.0 1197.5,547.6 1199.2,548.2 1200.9,547.7 1202.6,548.0 1204.3,547.8 1206.0,547.6 1207.7,548.0 1209.4,548.0 1211.1,548.2 1212.8,547.8 1214.5,548.1 1216.2,548.1 1217.9,548.2 1219.6,547.8 1221.3,547.8 1223.0,548.0 1224.7,548.2 1226.4,547.6 1228.1,547.7 1229.8,547.7 1231.5,547.7 1233.2,547.8 1234.9,547.9 1236.6,548.2 1238.3,547.6 1240.0,548.0 1241.7,548.0 1243.4,548.1 1245.1,547.6 1246.8,547.6 1248.5,547.6 1250.2,547.8 1251.9,547.6 1253.6,548.2 1255.3,547.6 1257.0,548.2 1258.7,547.9 1260.4,548.2 1262.1,547.7 1263.8,548.1 1265.5,547.9 1267.2,547.7 1268.9,547.9 1270.6,548.2 1272.3,547.9 1274.0,547.6 1275.7,547.7 1277.4,548.2 1279.1,548.2 1280.8,548.2 1282.5,547.8 1284.2,548.2 1285.9,547.6 1287.6,547.9 1289.3,547.8 1291.0,547.9 1292.7,547.8 1294.4,547.9 1296.1,548.0 1297.8,547.8 1299.5,547.6 1301.2,548.0 1302.9,548.1 1304.6,548.1 1306.3,548.2 1308.0,548.0 1309.7,548.0 1311.4,547.6 1313.1,547.9 1314.8,547.8 1316.5,547.7 1318.2,547.7 1319.9,547.6 1321.6,548.0 1323.3,547.8 1325.0,547.9 1326.7,548.0 1328.4,549.2 1330.1,547.9 1331.8,547.9 1333.5,547.7 1335.2,547.8 1336.9,548.0 1338.6,547.8 1340.3,548.2 1342.0,547.6 1343.7,548.2 1345.4,547.9 1347.1,548.0 1348.8,548.1 1350.5,547.9 1352.2,547.6 1353.9,547.9 1355.6,546.2 1357.3,547.8 1358.5,548.2" fill="none" stroke="#A2142F" stroke-width="5.8" stroke-linejoin="round" stroke-linecap="round"/>
<polyline points="1358.5,548.2 1360.0,550.0 1361.5,556.0 1363.0,553.0 1369.0,529.7 1370.2,529.4 1371.7,538.3 1372.6,540.4 1376.3,570.6 1377.3,570.6 1379.2,557.0 1380.9,553.3 1384.2,535.0 1385.9,534.8 1387.1,534.5 1388.9,542.8 1389.9,544.8 1394.2,573.1 1395.2,573.1 1397.5,560.4 1399.4,556.9 1403.3,539.7 1405.3,531.4 1406.5,531.1 1408.2,539.4 1409.1,541.4 1413.1,569.7 1414.1,569.7 1416.1,557.0 1417.9,553.5 1421.5,536.3 1423.3,534.0 1424.5,533.7 1426.3,542.2 1427.2,544.2 1431.5,573.1 1432.5,573.1 1434.6,560.1 1436.5,556.5 1440.3,539.0 1442.3,529.7 1443.5,529.4 1445.1,538.3 1446.0,540.4 1450.0,570.6 1451.0,570.6 1453.0,557.0 1454.7,553.3 1458.3,535.0 1460.1,531.4 1461.3,531.1 1462.9,539.8 1463.8,541.8 1467.8,571.4 1468.8,571.4 1470.8,558.2 1472.5,554.5 1476.1,536.5 1477.9,532.3 1479.1,532.0 1480.5,540.3 1481.3,542.2 1484.7,570.6 1485.7,570.6 1487.3,557.9 1488.9,554.4 1492.0,537.1 1493.5,532.3 1494.7,532.0 1496.5,540.8 1497.5,542.9 1501.9,573.1 1502.9,573.1 1505.1,559.6 1507.1,555.8 1511.0,537.5 1513.0,530.6 1514.2,530.3 1515.8,538.4 1516.7,540.3 1520.7,568.1 1521.7,568.1 1523.7,555.6 1525.4,552.2 1529.0,535.3 1530.8,530.6 1532.0,530.3 1533.4,537.6 1534.2,539.4 1537.8,564.7 1538.8,564.7 1540.5,553.3 1542.1,550.2 1545.3,534.9 1546.9,534.0 1548.1,533.7 1550.0,542.2 1551.1,544.2 1555.7,573.1 1556.7,573.1 1559.0,560.1 1561.1,556.5 1565.1,539.0 1567.3,530.6 1568.5,530.3 1570.3,539.0 1571.3,541.0 1575.7,570.6 1576.7,570.6 1578.9,557.3 1580.9,553.7 1584.8,535.7 1586.8,530.6 1588.0,530.3 1589.6,538.8 1590.5,540.8 1594.3,569.7 1595.3,569.7 1597.3,556.8 1599.0,553.2 1602.5,535.6 1604.3,534.8 1605.5,534.5 1607.3,542.4 1608.2,544.3 1612.5,571.4 1613.5,571.4 1615.6,559.3 1617.5,555.9 1621.3,539.5 1623.3,529.7 1624.5,529.4 1626.1,538.1 1627.0,540.1 1630.9,569.7 1631.9,569.7 1633.9,556.5 1635.7,552.8 1639.2,534.8 1641.0,533.1 1642.2,532.8 1644.1,541.3 1645.2,543.3 1649.7,572.3 1650.7,572.3 1653.1,559.3 1655.1,555.7 1659.2,538.1 1661.3,529.7 1662.5,529.4 1663.9,536.8 1664.7,538.5 1668.2,563.8 1669.2,563.8 1671.0,552.5 1672.6,549.4 1675.8,534.0 1677.3,532.3 1678.5,532.0 1680.4,540.5 1681.5,542.5 1686.1,571.4 1687.1,571.4 1689.4,558.5 1691.5,554.9 1695.5,537.3 1697.7,528.9 1698.9,528.6 1700.5,537.4 1701.4,539.5 1705.4,569.7 1706.4,569.7 1708.4,556.2 1710.1,552.4 1713.7,534.1 1715.5,533.1 1716.7,532.8 1718.5,541.3 1719.5,543.3 1723.8,572.3 1724.8,572.3 1727.1,559.3 1729.0,555.7 1732.9,538.1 1734.9,528.9 1736.1,528.6 1737.6,537.4 1738.5,539.5 1742.2,569.7 1743.2,569.7 1745.1,556.2 1746.8,552.4 1750.2,534.1 1751.9,534.0 1753.1,533.7 1754.9,542.2 1755.9,544.2 1760.3,573.1 1761.3,573.1 1763.5,560.1 1765.5,556.5 1769.4,539.0 1771.4,528.9 1772.6,528.6 1774.5,537.4 1775.6,539.5 1780.1,569.7 1781.1,569.7 1783.5,556.2 1785.5,552.4 1789.6,534.1 1791.7,528.9 1792.9,528.6 1794.4,536.9 1795.3,538.8 1799.0,567.2 1800.0,567.2 1801.9,554.5 1803.6,551.0 1807.0,533.8 1808.7,531.4 1809.9,531.1 1811.4,539.6 1812.3,541.6 1816.0,570.6 1817.0,570.6 1818.9,557.6 1820.6,554.0 1823.9,536.4 1825.6,534.0 1826.8,533.7 1828.5,542.2 1829.5,544.2 1833.7,573.1 1834.7,573.1 1836.8,560.1 1838.6,556.5 1842.4,539.0 1844.3,529.7 1845.5,529.4 1847.2,538.3 1848.2,540.4 1852.3,570.6 1853.3,570.6 1855.4,557.0 1857.3,553.3 1861.0,535.0 1862.9,531.4 1864.1,531.1 1865.5,538.7 1866.3,540.5 1869.9,566.4 1870.9,566.4 1872.6,554.8 1874.2,551.5 1877.4,535.8 1879.0,531.4 1880.2,531.1 1881.8,539.6 1882.7,541.6 1886.7,570.6 1887.7,570.6 1889.7,557.6 1891.4,554.0 1895.0,536.4 1896.8,534.8 1898.0,534.5 1899.7,542.8 1900.7,544.8 1904.9,573.1 1905.9,573.1 1908.0,560.4 1909.8,556.9 1913.6,539.7 1915.5,528.9 1916.7,528.6 1918.3,537.6 1919.2,539.8 1923.2,570.6 1924.2,570.6 1926.2,556.8 1927.9,552.9 1931.5,534.2 1933.3,532.3 1934.5,532.0 1936.1,540.3 1937.0,542.2 1940.9,570.6 1941.9,570.6 1943.9,557.9 1945.7,554.4 1949.2,537.1 1951.0,534.0 1952.2,533.7 1953.9,542.2 1954.9,544.2 1959.1,573.1 1960.1,573.1 1962.2,560.1 1964.0,556.5 1967.8,539.0 1969.7,530.6 1970.9,530.3 1972.4,538.8 1973.3,540.8 1977.0,569.7 1978.0,569.7 1979.9,556.8 1981.6,553.2 1984.9,535.6 1986.6,532.3 1987.8,532.0 1989.5,540.6 1990.4,542.7 1994.4,572.3 1995.4,572.3 1996.2,567.0" fill="none" stroke="#A2142F" stroke-width="4.9" stroke-linejoin="round" stroke-linecap="round"/>
<text transform="translate(83.1 495.8) scale(1 1.04)" text-anchor="end" class="tk">2</text>
<text transform="translate(83.1 552.8) scale(1 1.04)" text-anchor="end" class="tk">1</text>
<text transform="translate(83.1 609.9) scale(1 1.04)" text-anchor="end" class="tk">0</text>
</g>
<g>
<line x1="86.1" y1="662.3" x2="1995.7" y2="662.3" stroke="#6c6c6c" stroke-width="1.5"/>
<line x1="86.1" y1="700.3" x2="1995.7" y2="700.3" stroke="#6c6c6c" stroke-width="1.5"/>
<line x1="86.1" y1="738.4" x2="1995.7" y2="738.4" stroke="#6c6c6c" stroke-width="1.5"/>
<line x1="404.4" y1="643.5" x2="404.4" y2="757.5" stroke="#6c6c6c" stroke-width="1.4"/>
<line x1="722.6" y1="643.5" x2="722.6" y2="757.5" stroke="#6c6c6c" stroke-width="1.4"/>
<line x1="1040.9" y1="643.5" x2="1040.9" y2="757.5" stroke="#6c6c6c" stroke-width="1.4"/>
<line x1="1359.2" y1="643.5" x2="1359.2" y2="757.5" stroke="#6c6c6c" stroke-width="1.4"/>
<line x1="1677.4" y1="643.5" x2="1677.4" y2="757.5" stroke="#6c6c6c" stroke-width="1.4"/>
<rect x="86.1" y="643.5" width="1909.6" height="114.0" fill="none" stroke="#1c1c1c" stroke-width="1.5"/>
<line x1="86.1" y1="662.3" x2="105.6" y2="662.3" stroke="#1c1c1c" stroke-width="1.5"/>
<line x1="1976.2" y1="662.3" x2="1995.7" y2="662.3" stroke="#1c1c1c" stroke-width="1.5"/>
<line x1="86.1" y1="700.3" x2="105.6" y2="700.3" stroke="#1c1c1c" stroke-width="1.5"/>
<line x1="1976.2" y1="700.3" x2="1995.7" y2="700.3" stroke="#1c1c1c" stroke-width="1.5"/>
<line x1="86.1" y1="738.4" x2="105.6" y2="738.4" stroke="#1c1c1c" stroke-width="1.5"/>
<line x1="1976.2" y1="738.4" x2="1995.7" y2="738.4" stroke="#1c1c1c" stroke-width="1.5"/>
<line x1="404.4" y1="643.5" x2="404.4" y2="663.0" stroke="#1c1c1c" stroke-width="1.5"/>
<line x1="404.4" y1="738.0" x2="404.4" y2="757.5" stroke="#1c1c1c" stroke-width="1.5"/>
<line x1="722.6" y1="643.5" x2="722.6" y2="663.0" stroke="#1c1c1c" stroke-width="1.5"/>
<line x1="722.6" y1="738.0" x2="722.6" y2="757.5" stroke="#1c1c1c" stroke-width="1.5"/>
<line x1="1040.9" y1="643.5" x2="1040.9" y2="663.0" stroke="#1c1c1c" stroke-width="1.5"/>
<line x1="1040.9" y1="738.0" x2="1040.9" y2="757.5" stroke="#1c1c1c" stroke-width="1.5"/>
<line x1="1359.2" y1="643.5" x2="1359.2" y2="663.0" stroke="#1c1c1c" stroke-width="1.5"/>
<line x1="1359.2" y1="738.0" x2="1359.2" y2="757.5" stroke="#1c1c1c" stroke-width="1.5"/>
<line x1="1677.4" y1="643.5" x2="1677.4" y2="663.0" stroke="#1c1c1c" stroke-width="1.5"/>
<line x1="1677.4" y1="738.0" x2="1677.4" y2="757.5" stroke="#1c1c1c" stroke-width="1.5"/>
<polyline points="86.7,699.5 87.5,643.6 88.3,643.6 89.5,690.0 92.2,702.9 94.7,713.1 98.1,720.7 101.5,724.1 104.4,724.9 107.5,723.7 110.8,720.7 113.9,714.7 117.6,701.2 121.0,690.2 124.1,683.4 126.9,681.4 129.5,683.4 132.5,691.9 136.3,706.3 138.8,715.6 141.4,719.3 143.4,716.4 146.4,704.6 149.8,689.3 153.2,681.7 155.8,685.9 159.2,702.9 162.5,716.4 164.2,719.5 165.9,715.6 168.5,697.8 171.0,682.9 172.7,681.7 174.9,691.0 177.8,706.3 180.3,712.2 182.4,709.7 185.4,699.5 189.7,690.7 192.5,697.8 195.6,706.3 198.1,709.7 200.7,706.3 204.9,693.6 208.3,688.5 210.8,696.1 213.9,705.4 216.8,709.3 219.3,706.3 220.8,698.7 222.2,694.5 223.6,690.9 225.0,690.2 226.4,693.5 227.8,697.7 229.2,702.1 230.6,706.3 232.0,709.9 233.4,710.4 234.8,707.0 236.2,702.9 237.6,698.5 239.0,694.5 240.4,691.1 241.8,690.8 243.2,694.1 244.6,698.0 246.0,702.5 247.4,706.8 248.8,710.4 250.2,710.5 251.6,707.0 253.0,702.7 254.4,698.2 255.8,694.0 257.2,690.6 258.6,690.7 260.0,694.1 261.4,698.2 262.8,702.7 264.2,706.8 265.6,710.1 267.0,709.9 268.4,706.5 269.8,702.3 271.2,697.9 272.6,693.9 274.0,690.5 275.4,691.0 276.8,694.4 278.2,698.6 279.6,703.1 281.0,707.3 282.4,710.8 283.8,710.2 285.2,706.5 286.6,702.1 288.0,697.6 289.4,693.4 290.8,690.1 292.2,690.9 293.6,694.5 295.0,698.8 296.4,703.2 297.8,707.3 299.2,710.6 300.6,709.6 302.0,706.0 303.4,701.7 304.8,697.4 306.2,693.5 307.6,690.4 309.0,691.5 310.4,695.0 311.8,699.1 313.2,703.4 314.6,707.3 316.0,710.4 317.4,709.1 318.8,705.6 320.2,701.4 321.6,697.0 323.0,692.9 324.4,689.7 325.8,691.3 327.2,695.0 328.6,699.4 330.0,703.9 331.4,708.1 332.8,711.3 334.2,709.5 335.6,705.7 337.0,701.2 338.4,696.9 339.8,693.0 341.2,690.0 342.6,691.9 344.0,695.5 345.4,699.7 346.8,704.1 348.2,708.0 349.6,711.1 351.0,708.9 352.4,705.2 353.8,700.9 355.2,696.4 356.6,692.3 358.0,689.2 359.4,691.6 360.8,695.5 362.2,699.9 363.6,704.5 365.0,708.5 366.4,711.6 367.8,709.0 369.2,705.1 370.6,700.6 372.0,696.3 373.4,692.5 374.8,689.6 376.2,692.2 377.6,696.0 379.0,700.2 380.4,704.7 381.8,708.7 383.2,711.7 384.6,708.7 386.0,704.8 387.4,700.3 388.8,696.2 390.2,692.5 391.6,689.8 393.0,692.7 394.4,696.3 395.8,700.5 397.2,705.0 398.6,708.9 400.0,711.6 401.4,708.6 402.8,704.5 404.2,700.0 405.6,695.7 407.0,691.9 408.4,689.4 409.8,692.5 411.2,696.4 412.6,700.8 414.0,705.0 415.4,708.6 416.8,710.8 418.2,707.8 419.6,704.0 421.0,699.7 422.4,695.3 423.8,691.6 425.2,689.5 426.6,692.6 428.0,696.6 429.4,701.1 430.8,705.4 432.2,709.1 433.6,711.0 435.0,707.8 436.4,703.9 437.8,699.5 439.2,695.2 440.6,691.5 442.0,689.8 443.4,693.0 444.8,697.0 446.2,701.3 447.6,705.5 449.0,709.0 450.4,710.5 451.8,707.4 453.2,703.5 454.6,699.1 456.0,694.8 457.4,691.0 458.8,689.7 460.2,693.0 461.6,697.2 463.0,701.7 464.4,706.0 465.8,709.6 467.2,710.7 468.6,707.4 470.0,703.3 471.4,698.9 472.8,694.7 474.2,691.2 475.6,690.3 477.0,693.5 478.4,697.6 479.8,701.9 481.2,706.1 482.6,709.6 484.0,710.3 485.4,707.0 486.8,703.0 488.2,698.7 489.6,694.7 491.0,691.3 492.4,690.8 493.8,694.0 495.2,697.9 496.6,702.3 498.0,706.5 499.4,710.0 500.8,710.4 502.2,707.0 503.6,702.8 505.0,698.2 506.4,693.9 507.8,690.3 509.2,690.2 510.6,693.7 512.0,698.0 513.4,702.5 514.8,706.6 516.2,710.0 517.6,710.0 519.0,706.6 520.4,702.5 521.8,698.1 523.2,694.1 524.6,690.8 526.0,691.0 527.4,694.4 528.8,698.4 530.2,702.7 531.6,706.8 533.0,710.1 534.4,709.7 535.8,706.3 537.2,702.2 538.6,697.8 540.0,693.8 541.4,690.5 542.8,691.1 544.2,694.6 545.6,698.7 547.0,702.9 548.4,706.8 549.8,710.0 551.2,709.2 552.6,705.9 554.0,701.8 555.4,697.4 556.8,693.3 558.2,690.0 559.6,691.0 561.0,694.6 562.4,698.9 563.8,703.4 565.2,707.6 566.6,710.9 568.0,709.7 569.4,706.0 570.8,701.7 572.2,697.2 573.6,693.2 575.0,690.1 576.4,691.4 577.8,695.0 579.2,699.2 580.6,703.7 582.0,707.7 583.4,711.0 584.8,709.4 586.2,705.7 587.6,701.3 589.0,696.8 590.4,692.8 591.8,689.5 593.2,691.3 594.6,695.1 596.0,699.5 597.4,703.9 598.8,707.9 600.2,711.0 601.6,709.0 603.0,705.3 604.4,701.0 605.8,696.7 607.2,692.8 608.6,689.7 610.0,691.8 611.4,695.5 612.8,699.8 614.2,704.1 615.6,707.9 617.0,710.9 618.4,708.7 619.8,705.0 621.2,700.8 622.6,696.4 624.0,692.6 625.4,689.6 626.8,692.1 628.2,695.8 629.6,700.1 631.0,704.5 632.4,708.3 633.8,711.3 635.2,708.6 636.6,704.8 638.0,700.5 639.4,696.3 640.8,692.6 642.2,689.8 643.6,692.6 645.0,696.2 646.4,700.4 647.8,704.7 649.2,708.6 650.6,711.4 652.0,708.5 653.4,704.6 654.8,700.2 656.2,695.8 657.6,692.0 659.0,689.3 660.4,692.3 661.8,696.2 663.2,700.6 664.6,704.8 666.0,708.5 667.4,710.8 668.8,707.9 670.2,704.1 671.6,699.9 673.0,695.4 674.4,691.6 675.8,689.3 677.2,692.4 678.6,696.4 680.0,700.9 681.4,705.4 682.8,709.2 684.2,711.3 685.6,708.1 687.0,704.1 688.4,699.6 689.8,695.1 691.2,691.3 692.6,689.4 694.0,692.6 695.4,696.7 696.8,701.2 698.2,705.3 699.6,708.9 701.0,710.5 702.4,707.5 703.8,703.6 705.2,699.3 706.6,694.9 708.0,691.2 709.4,689.6 710.8,692.9 712.2,697.0 713.6,701.5 715.0,705.8 717.3,711.0 720.5,700.0 723.4,681.8 725.0,684.0 727.5,700.0 730.5,710.5 732.3,711.8 733.5,711.8 734.9,709.7 736.3,704.9 737.7,699.4 739.1,694.4 740.5,690.5 741.9,691.3 743.3,694.2 744.7,697.8 746.1,701.7 747.5,705.7 748.9,709.4 750.3,712.2 751.7,709.8 753.1,704.7 754.5,698.9 755.9,693.4 757.3,689.0 758.7,690.3 760.1,693.7 761.5,697.7 762.9,701.7 764.3,705.3 765.7,708.5 767.1,711.0 768.5,708.5 769.9,704.0 771.3,698.8 772.7,693.9 774.1,690.0 775.5,691.5 776.9,694.6 778.3,698.2 779.7,702.0 781.1,705.8 782.5,709.1 783.9,711.7 785.3,708.6 786.7,703.8 788.1,698.5 789.5,693.5 790.9,689.7 792.3,691.6 793.7,694.7 795.1,698.4 796.5,702.3 797.9,706.0 799.3,709.3 800.7,711.8 802.1,708.4 803.5,703.6 804.9,698.0 806.3,692.6 807.7,688.6 809.1,690.9 810.5,694.4 811.9,698.4 813.3,702.5 814.7,706.1 816.1,709.3 817.5,711.7 818.9,708.1 820.3,703.2 821.7,697.6 823.1,692.3 824.5,688.3 825.9,691.0 827.3,694.6 828.7,698.6 830.1,702.9 831.5,706.9 832.9,710.4 834.3,712.7 835.7,708.6 837.1,703.1 838.5,697.5 839.9,692.6 841.3,689.3 842.7,691.9 844.1,695.2 845.5,699.0 846.9,702.9 848.3,706.6 849.7,709.8 851.1,711.5 852.5,707.7 853.9,702.6 855.3,697.2 856.7,692.2 858.1,689.2 859.5,691.9 860.9,695.3 862.3,699.2 863.7,703.2 865.1,706.8 866.5,710.0 867.9,711.4 869.3,707.4 870.7,702.3 872.1,696.6 873.5,691.4 874.9,688.6 876.3,691.5 877.7,695.2 879.1,699.3 880.5,703.6 881.9,707.6 883.3,710.9 884.7,712.1 886.1,707.7 887.5,702.1 888.9,696.6 890.3,691.9 891.7,689.7 893.1,692.4 894.5,695.8 895.9,699.7 897.3,703.9 898.7,707.8 900.1,711.2 901.5,712.0 902.9,707.5 904.3,701.8 905.7,696.2 907.1,691.5 908.5,689.6 909.9,692.4 911.3,695.9 912.7,699.9 914.1,703.9 915.5,707.7 916.9,710.8 918.3,711.2 919.7,706.8 921.1,701.4 922.5,695.8 923.9,691.0 925.3,689.4 926.7,692.3 928.1,696.0 929.5,700.1 930.9,703.8 932.3,707.2 933.7,710.1 935.1,710.1 936.5,706.0 937.9,701.1 939.3,696.0 940.7,691.7 942.1,690.7 943.5,693.4 944.9,696.7 946.3,700.4 947.7,704.5 949.1,708.3 950.5,711.5 951.9,711.2 953.3,706.5 954.7,700.8 956.1,695.2 957.5,690.6 958.9,689.8 960.3,692.8 961.7,696.5 963.1,700.6 964.5,704.8 965.9,708.6 967.3,711.7 968.7,711.0 970.1,706.2 971.5,700.5 972.9,695.4 974.3,691.1 975.7,690.7 977.1,693.6 978.5,697.0 979.9,700.8 981.3,704.6 982.7,708.1 984.1,710.9 985.5,709.9 986.9,705.4 988.3,700.2 989.7,694.9 991.1,690.6 992.5,690.5 993.9,693.5 995.3,697.1 996.7,701.1 998.1,705.3 999.5,709.1 1000.9,712.1 1002.3,710.6 1003.7,705.6 1005.1,699.8 1006.5,694.5 1007.9,690.2 1009.3,690.5 1010.7,693.6 1012.1,697.3 1013.5,701.3 1014.9,705.5 1016.3,709.3 1017.7,712.3 1019.1,710.3 1020.5,705.3 1021.9,699.5 1023.3,694.0 1024.7,689.6 1026.1,690.3 1027.5,693.5 1028.9,697.4 1030.3,701.5 1031.7,705.3 1033.1,708.7 1034.5,711.5 1035.9,709.3 1037.3,704.6 1038.7,699.3 1040.1,694.2 1041.5,690.2 1042.9,691.2 1044.3,694.2 1045.7,697.8 1047.1,701.7 1048.5,705.4 1049.9,708.7 1051.3,711.3 1052.7,708.9 1054.1,704.2 1055.5,698.8 1056.9,693.5 1058.3,689.3 1059.7,690.7 1061.1,694.0 1062.5,697.9 1063.9,702.0 1065.3,706.1 1066.7,709.7 1068.1,712.6 1069.5,709.5 1070.9,704.3 1072.3,698.6 1073.7,693.4 1075.1,689.4 1076.5,691.1 1077.9,694.4 1079.3,698.2 1080.7,702.2 1082.1,706.3 1083.5,709.8 1084.9,712.6 1086.3,709.1 1087.7,703.9 1089.1,698.2 1090.5,692.9 1091.9,688.8 1093.3,691.0 1094.7,694.4 1096.1,698.3 1097.5,702.3 1098.9,706.0 1100.3,709.1 1101.7,711.6 1103.1,708.1 1104.5,703.3 1105.9,697.9 1107.3,692.7 1108.7,688.8 1110.1,691.3 1111.5,694.7 1112.9,698.6 1114.3,702.5 1115.7,706.2 1117.1,709.3 1118.5,711.5 1119.9,707.9 1121.3,703.0 1122.7,697.9 1124.1,693.2 1125.5,689.9 1126.9,692.3 1128.3,695.4 1129.7,699.0 1131.1,702.8 1132.5,706.5 1133.9,709.6 1135.3,711.5 1136.7,707.7 1138.1,702.8 1139.5,697.4 1140.9,692.5 1142.3,689.3 1143.7,691.9 1145.1,695.3 1146.5,699.1 1147.9,702.9 1149.3,706.5 1150.7,709.5 1152.1,711.0 1153.5,707.3 1154.9,702.4 1156.3,697.1 1157.7,692.2 1159.1,689.4 1160.5,692.1 1161.9,695.5 1163.3,699.3 1164.7,703.3 1166.1,706.9 1167.5,710.1 1168.9,711.3 1170.3,707.3 1171.7,702.2 1173.1,696.7 1174.5,691.8 1175.9,689.3 1177.3,692.1 1178.7,695.6 1180.1,699.5 1181.5,703.3 1182.9,706.8 1184.3,709.7 1185.7,710.6 1187.1,706.7 1188.5,701.8 1189.9,696.2 1191.3,691.1 1192.7,688.9 1194.1,691.9 1195.5,695.6 1196.9,699.7 1198.3,703.9 1199.7,707.8 1201.1,711.1 1202.5,711.7 1203.9,707.2 1205.3,701.6 1206.7,696.0 1208.1,691.2 1209.5,689.5 1210.9,692.4 1212.3,696.0 1213.7,700.0 1215.1,703.8 1216.5,707.4 1217.9,710.3 1219.3,710.5 1220.7,706.4 1222.1,701.2 1223.5,695.6 1224.9,690.7 1226.3,689.4 1227.7,692.4 1229.1,696.1 1230.5,700.2 1231.9,704.1 1233.3,707.6 1234.7,710.5 1236.1,710.4 1237.5,706.1 1238.9,700.9 1240.3,695.3 1241.7,690.6 1243.1,689.6 1244.5,692.6 1245.9,696.3 1247.3,700.5 1248.7,704.1 1250.1,707.5 1251.5,710.3 1252.9,709.8 1254.3,705.6 1255.7,700.6 1257.1,695.4 1258.5,691.0 1259.9,690.4 1261.3,693.3 1262.7,696.8 1264.1,700.7 1265.5,704.5 1266.9,708.0 1268.3,710.9 1269.7,710.0 1271.1,705.6 1272.5,700.3 1273.9,694.7 1275.3,690.0 1276.7,689.8 1278.1,692.9 1279.5,696.8 1280.9,700.9 1282.3,705.0 1283.7,708.7 1285.1,711.6 1286.5,710.4 1287.9,705.6 1289.3,700.0 1290.7,694.3 1292.1,689.7 1293.5,689.8 1294.9,693.1 1296.3,697.0 1297.7,701.1 1299.1,704.9 1300.5,708.3 1301.9,711.1 1303.3,709.5 1304.7,705.0 1306.1,699.7 1307.5,694.7 1308.9,690.7 1310.3,691.1 1311.7,694.1 1313.1,697.6 1314.5,701.3 1315.9,705.0 1317.3,708.3 1318.7,710.9 1320.1,709.1 1321.5,704.6 1322.9,699.4 1324.3,694.1 1325.7,689.8 1327.1,690.7 1328.5,693.8 1329.9,697.6 1331.3,701.7 1332.7,705.8 1334.1,709.4 1335.5,712.3 1336.9,709.8 1338.3,704.7 1339.7,699.1 1341.1,694.2 1342.5,690.2 1343.9,691.4 1345.3,694.4 1346.7,698.0 1348.1,701.8 1349.5,705.4 1350.9,708.7 1353.5,708.0 1357.0,695.0" fill="none" stroke="#77AC30" stroke-width="5.4" stroke-linejoin="round" stroke-linecap="round"/>
<polyline points="1357.0,695.0 1360.2,681.4 1365.7,723.4 1368.5,687.6 1373.5,738.3 1376.6,657.1 1382.1,732.0 1385.3,683.7 1390.4,732.8 1393.6,657.1 1396.7,680.4 1400.1,749.2 1404.5,694.7 1409.5,745.3 1413.5,697.0 1418.2,754.7 1421.6,693.9 1426.5,743.7 1430.4,691.6 1435.4,756.3 1439.8,691.6 1444.0,738.3 1448.2,694.7 1452.3,750.0 1457.0,694.7 1461.2,740.6 1465.2,697.8 1469.9,753.9 1474.2,690.0 1478.5,737.5 1482.4,697.0 1486.3,754.7 1490.7,694.7 1495.4,739.8 1499.2,695.5 1503.5,750.8 1507.2,682.0 1510.8,676.7 1513.9,714.8 1518.6,664.1 1521.8,745.3 1527.5,657.9 1531.6,711.6 1535.5,664.1 1539.8,725.7 1544.0,672.0 1547.3,718.7 1552.3,667.3 1555.4,743.0 1561.7,650.8 1566.4,706.1 1571.1,654.0 1575.5,704.6 1580.0,646.9 1584.9,712.4 1589.1,664.9 1592.6,705.4 1597.3,645.3 1601.2,705.4 1605.9,665.7 1609.5,703.0 1614.2,648.5 1621.2,724.9 1623.9,685.3 1629.4,738.3 1632.2,657.1 1637.7,736.7 1641.1,683.7 1646.3,734.3 1649.1,658.7 1655.7,748.4 1660.4,694.7 1665.4,741.4 1668.2,701.0 1672.8,746.9 1677.1,696.3 1681.8,743.7 1685.7,693.9 1690.4,754.7 1694.8,693.9 1699.8,737.5 1703.2,696.3 1707.6,749.2 1712.0,699.4 1716.7,737.5 1720.5,697.0 1724.8,751.6 1728.8,682.0 1731.9,675.9 1734.6,717.1 1739.4,664.9 1742.5,744.5 1747.9,667.3 1751.5,721.0 1756.5,669.6 1759.6,744.5 1766.7,653.2 1770.7,706.1 1775.8,655.5 1779.7,703.8 1784.7,643.8 1789.4,710.8 1793.8,668.1 1796.9,706.1 1800.8,653.2 1805.5,703.8 1809.9,661.0 1813.8,703.0 1818.1,646.9 1822.8,703.8 1827.2,661.0 1830.8,703.8 1835.5,650.0 1841.8,724.2 1844.9,682.9 1850.1,737.5 1853.2,657.1 1859.0,741.4 1862.9,689.2 1867.1,735.9 1870.4,657.9 1875.4,728.9 1879.0,682.9 1884.1,734.3 1887.2,657.1 1892.7,729.6 1895.8,685.3 1900.5,732.0 1904.0,657.1 1907.6,685.9 1910.7,748.4 1915.1,693.9 1919.6,744.5 1924.0,696.3 1928.4,755.5 1932.3,694.7 1937.0,740.6 1940.9,695.5 1945.2,751.6 1949.1,695.5 1953.8,742.2 1958.0,693.1 1962.7,757.1 1967.4,690.8 1971.8,735.9 1975.4,694.7 1979.6,750.0 1985.1,698.6 1988.6,739.8 1992.5,698.6 1994.8,739.0 1996.7,732.1" fill="none" stroke="#77AC30" stroke-width="5.9" stroke-linejoin="round" stroke-linecap="round"/>
<text transform="translate(83.1 672.6) scale(1 1.04)" text-anchor="end" class="tk">10</text>
<text transform="translate(83.1 710.6) scale(1 1.04)" text-anchor="end" class="tk">0</text>
<text transform="translate(83.1 748.7) scale(1 1.04)" text-anchor="end" class="tk">-10</text>
</g>
<text transform="translate(90.6 790.5) scale(1 1.04)" text-anchor="middle" class="tk">0</text>
<text transform="translate(408.9 790.5) scale(1 1.04)" text-anchor="middle" class="tk">0.5</text>
<text transform="translate(727.1 790.5) scale(1 1.04)" text-anchor="middle" class="tk">1</text>
<text transform="translate(1045.4 790.5) scale(1 1.04)" text-anchor="middle" class="tk">1.5</text>
<text transform="translate(1363.7 790.5) scale(1 1.04)" text-anchor="middle" class="tk">2</text>
<text transform="translate(1681.9 790.5) scale(1 1.04)" text-anchor="middle" class="tk">2.5</text>
<text transform="translate(2000.2 790.5) scale(1 1.04)" text-anchor="middle" class="tk">3</text>
<text transform="translate(1060.7 821) scale(1 1.03)" text-anchor="middle" class="xl">Time (s)</text>
<text transform="translate(20.3 98.0) rotate(-90) scale(1.0 1.0)" class="yl">Lm(H)</text>
<text transform="translate(28.2 270.6) rotate(-90) scale(1.0 1.15)" class="gw">ω</text>
<text transform="translate(26.5 249.0) rotate(-90) scale(1.0 1.0)" class="yl">(rad/s)</text>
<text transform="translate(31.5 424.4) rotate(-90) scale(1.0 1.0)" class="yl">T (N.m.)</text>
<text transform="translate(40.7 591.0) rotate(-90) scale(1.0 1.0)" class="yu">|</text>
<text transform="translate(40.7 586.5) rotate(-90) scale(1.0 1.0)" class="gr">ψ</text>
<text transform="translate(54.1 566.0) rotate(-90) scale(1.0 1.0)" class="ys">s</text>
<text transform="translate(40.7 554.0) rotate(-90) scale(1.0 1.0)" class="yu">|</text>
<text transform="translate(40.7 540.0) rotate(-90) scale(1.0 1.0)" class="yl">(Wb)</text>
<text transform="translate(19.6 728.5) rotate(-90) scale(1.0 1.0)" class="yl">i</text>
<text transform="translate(33.5 723.5) rotate(-90) scale(1.0 1.0)" class="ga">α</text>
<text transform="translate(19.6 698.0) rotate(-90) scale(1.0 1.0)" class="yl">(A)</text>
<text x="255.0" y="74.8" textLength="168.5" lengthAdjust="spacingAndGlyphs" class="an">Nominal Lm</text>
<text x="911.5" y="107.7" textLength="259.4" lengthAdjust="spacingAndGlyphs" class="an">50% increase in Lm</text>
<text x="1546.9" y="109.1" textLength="274.9" lengthAdjust="spacingAndGlyphs" class="an">100% increase in Lm</text>
<text x="221.2" y="377.7" textLength="388.0" lengthAdjust="spacingAndGlyphs" class="an">Avg. torque ripples=0.56 Nm</text>
<text x="873.3" y="377.7" textLength="374.5" lengthAdjust="spacingAndGlyphs" class="an">Avg. torque ripples=0.6 Nm</text>
<text x="1507.8" y="377.7" textLength="373.9" lengthAdjust="spacingAndGlyphs" class="an">Avg. torque ripples=4.7 Nm</text>
<text x="228.0" y="530.1" textLength="348.8" lengthAdjust="spacingAndGlyphs" class="an">Avg. flux ripples=0.07 Wb</text>
<text x="873.0" y="530.1" textLength="348.4" lengthAdjust="spacingAndGlyphs" class="an">Avg. flux ripples=0.08 Wb</text>
<text x="1542.8" y="513.7" textLength="333.8" lengthAdjust="spacingAndGlyphs" class="an">Avg. flux ripples=0.4 Wb</text>
<text x="317.4" y="680.8" textLength="92.5" lengthAdjust="spacingAndGlyphs" class="an">THD=</text>
<text x="422.4" y="680.8" textLength="64.6" lengthAdjust="spacingAndGlyphs" class="an">8.9%</text>
<text x="947.4" y="681.2" textLength="92.7" lengthAdjust="spacingAndGlyphs" class="an">THD=</text>
<text x="1052.0" y="681.2" textLength="96.0" lengthAdjust="spacingAndGlyphs" class="an">11.21%</text>
<text x="1624.2" y="636.0" textLength="93.4" lengthAdjust="spacingAndGlyphs" class="an">THD=</text>
<text x="1729.2" y="636.0" textLength="57.8" lengthAdjust="spacingAndGlyphs" class="an">58%</text>
</svg>
</body>
</html>
